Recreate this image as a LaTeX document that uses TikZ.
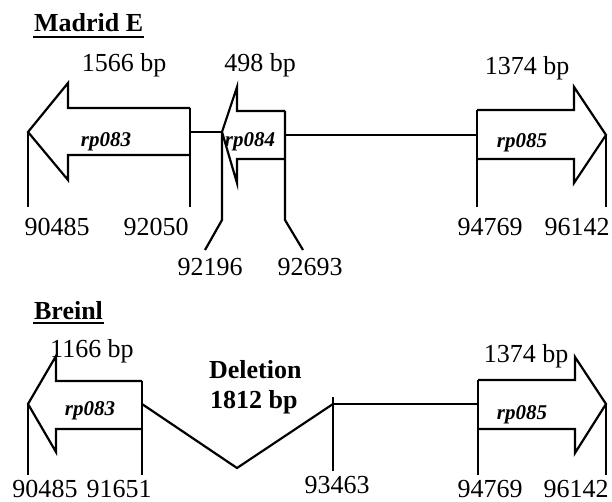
\documentclass[tikz,border=0pt]{standalone}
\usepackage{fontspec}
\setmainfont{Liberation Serif}
\begin{document}
\begin{tikzpicture}[x=1pt,y=-1pt,
  line width=2.2pt, line join=miter,
  lbl/.style={inner sep=0pt, anchor=base, font=\fontsize{26}{30}\selectfont},
  ttl/.style={inner sep=0pt, anchor=base west, font=\fontsize{26}{30}\selectfont\bfseries},
  gene/.style={inner sep=0pt, anchor=base, font=\fontsize{21}{24}\selectfont\bfseries\itshape},
  uline/.style={line width=1.8pt}]
\useasboundingbox (0,0) rectangle (612,502);

% ---------------- Madrid E ----------------
\node[ttl] (tmad) at (33,32) {Madrid E};
\draw[uline] ([yshift=-5pt]tmad.base west) -- ([yshift=-5pt]tmad.base east);

\node[lbl] (l1566) at (124,72) {1566 bp};
\node[lbl] (l498) at (260,72) {498 bp};
\node[lbl] (l1374a) at (527,75) {1374 bp};

% rp083 arrow (Madrid)
\coordinate (a1tip) at (28,132);
\coordinate (a1end) at (190,132);
\draw (190,108) -- (68,108) -- (68,83) -- (a1tip) -- (68,180) -- (68,155) -- (190,155);
\draw (190,108) -- (190,207);
\draw (a1tip) -- (28,207);
\node[gene] (g083a) at (106,147) {rp083};

% rp084 arrow
\coordinate (a2tip) at (222,132);
\coordinate (a2end) at (285,135);
\draw (285,111) -- (237,111) -- (237,87) -- (a2tip) -- (237,183) -- (237,159) -- (285,159);
\draw (285,111) -- (285,220) -- (303,250);
\draw (a2tip) -- (222,220) -- (205,250);
\node[gene] (g084) at (250,147) {rp084};

% rp085 arrow (Madrid)
\coordinate (a3start) at (477,135);
\coordinate (a3tip) at (606,135);
\draw (477,110) -- (574,110) -- (574,87) -- (a3tip) -- (574,183) -- (574,159) -- (477,159);
\draw (477,110) -- (477,207);
\draw (a3tip) -- (606,207);
\node[gene] (g085a) at (522,148) {rp085};

% connectors
\draw (a1end) -- (a2tip);
\draw (a2end) -- (a3start);

% coordinates
\node[lbl] (n90485a) at (57,236) {90485};
\node[lbl] (n92050) at (156,236) {92050};
\node[lbl] (n92196) at (210,275) {92196};
\node[lbl] (n92693) at (310,275) {92693};
\node[lbl] (n94769a) at (490,236) {94769};
\node[lbl] (n96142a) at (577,236) {96142};

% ---------------- Breinl ----------------
\node[ttl] (tbre) at (33,319) {Breinl};
\draw[uline] ([yshift=-4pt]tbre.base west) -- ([yshift=-4pt]tbre.base east);

\node[lbl] (l1166) at (92,357) {1166 bp};
\node[lbl] (l1374b) at (526,362) {1374 bp};
\node[ttl] (ldel) at (208,378) {Deletion};
\node[ttl] (l1812) at (209,408) {1812 bp};

% rp083 arrow (Breinl)
\coordinate (b1tip) at (28,404);
\coordinate (b1end) at (142,404);
\draw (142,381) -- (56,381) -- (56,356) -- (b1tip) -- (56,452) -- (56,429) -- (142,429);
\draw (142,381) -- (142,475);
\draw (b1tip) -- (28,475);
\node[gene] (g083b) at (90,415) {rp083};

% deletion V
\coordinate (vbot) at (237,468);
\coordinate (vtop) at (333,404);
\draw (b1end) -- (vbot) -- (vtop);
\draw (333,397) -- (333,471);

% rp085 arrow (Breinl)
\coordinate (b3start) at (478,404);
\coordinate (b3tip) at (606,404);
\draw (478,380) -- (575,380) -- (575,357) -- (b3tip) -- (575,453) -- (575,429) -- (478,429);
\draw (478,380) -- (478,475);
\draw (b3tip) -- (606,475);
\node[gene] (g085b) at (522,419) {rp085};

\draw (vtop) -- (b3start);

% coordinates
\node[lbl] (n90485b) at (45,497) {90485};
\node[lbl] (n91651) at (119,497) {91651};
\node[lbl] (n93463) at (337,493) {93463};
\node[lbl] (n94769b) at (490,497) {94769};
\node[lbl] (n96142b) at (576,497) {96142};
\end{tikzpicture}
\end{document}
